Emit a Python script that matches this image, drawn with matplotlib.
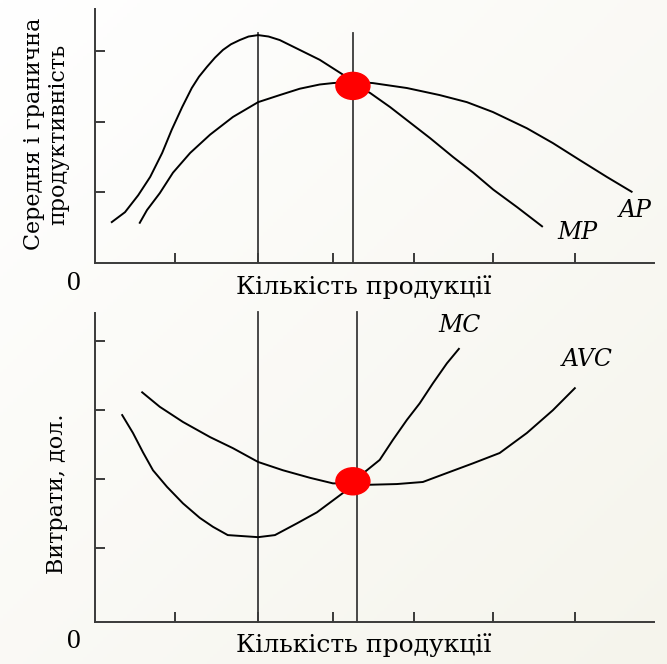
import matplotlib
matplotlib.use("Agg")
import matplotlib.pyplot as plt
from matplotlib.patches import Ellipse
import numpy as np

plt.rcParams['font.family'] = ['DejaVu Serif']

# top panel: marginal and average product
mp_x = [0.21, 0.375, 0.54, 0.69, 0.84, 0.96, 1.09, 1.21, 1.30, 1.40, 1.50, 1.60, 1.70, 1.81,
        1.92, 2.04, 2.17, 2.31, 2.56, 2.81, 3.10, 3.23, 3.44, 3.69, 3.94, 4.19, 4.48,
        4.73, 4.98, 5.28, 5.59]
mp_y = [0.58, 0.72, 0.96, 1.22, 1.56, 1.89, 2.21, 2.48, 2.64, 2.78, 2.91, 3.02, 3.10, 3.16,
        3.21, 3.23, 3.21, 3.16, 3.02, 2.88, 2.67, 2.54, 2.41, 2.21, 1.99, 1.77, 1.50,
        1.28, 1.04, 0.79, 0.52]
ap_x = [0.56, 0.65, 0.81, 0.975, 1.19, 1.44, 1.725, 2.04, 2.31, 2.56, 2.81, 2.975,
        3.225, 3.475, 3.90, 4.31, 4.65, 4.975, 5.40, 5.725, 6.06, 6.40, 6.71]
ap_y = [0.57, 0.75, 0.99, 1.28, 1.56, 1.82, 2.07, 2.28, 2.38, 2.47, 2.53, 2.55,
        2.57, 2.55, 2.48, 2.38, 2.28, 2.14, 1.91, 1.70, 1.46, 1.22, 1.01]

# bottom panel: marginal cost and average variable cost
mc_x = [0.34, 0.475, 0.60, 0.725, 0.90, 1.10, 1.31, 1.475, 1.66, 2.04, 2.25, 2.525,
        2.775, 3.10, 3.225, 3.40, 3.56, 3.725, 3.90, 4.06, 4.225, 4.40, 4.55]
mc_y = [2.93, 2.67, 2.39, 2.13, 1.89, 1.65, 1.44, 1.31, 1.19, 1.16, 1.19, 1.36,
        1.52, 1.80, 1.97, 2.13, 2.28, 2.57, 2.86, 3.10, 3.39, 3.68, 3.89]
avc_x = [0.59, 0.81, 1.10, 1.44, 1.725, 2.04, 2.35, 2.69, 2.975, 3.225, 3.44, 3.775,
         4.10, 4.40, 4.725, 5.06, 5.40, 5.725, 6.0]
avc_y = [3.26, 3.05, 2.83, 2.61, 2.45, 2.25, 2.13, 2.02, 1.94, 1.94, 1.92, 1.93,
         1.96, 2.09, 2.23, 2.38, 2.67, 3.00, 3.32]

x_ticks = [1.0, 2.04, 2.975, 3.99, 4.975, 6.0]
top_yticks = [1, 2, 3]
bot_yticks = [1, 2, 3, 4]
top_vlines = [2.04, 3.225]
bot_vlines = [2.04, 3.28]
top_point = (3.225, 2.51)
bot_point = (3.225, 1.97)

fig = plt.figure(figsize=(6.67, 6.64), dpi=100)

# soft background gradient
bg = fig.add_axes([0, 0, 1, 1], zorder=-10)
gx, gy = np.meshgrid(np.linspace(0, 1, 200), np.linspace(0, 1, 200))
g = np.clip((gx + gy) / 2, 0, 1)[..., None]
img = (1 - g) * np.array([1.0, 1.0, 1.0]) + g * np.array([0.962, 0.958, 0.925])
bg.imshow(img, aspect='auto', extent=[0, 1, 0, 1])
bg.axis('off')

line_kw = dict(color='black', lw=1.4)
axis_col = '#3a3a3a'
lab_kw = dict(style='italic', fontsize=17, ha='center', va='center')


def style(ax, ylim, yticks):
    ax.set_xlim(0, 6.99)
    ax.set_ylim(*ylim)
    ax.patch.set_alpha(0)
    for s in ['top', 'right']:
        ax.spines[s].set_visible(False)
    for s in ['left', 'bottom']:
        ax.spines[s].set_color(axis_col)
        ax.spines[s].set_linewidth(1.4)
    ax.set_xticks(x_ticks)
    ax.set_yticks(yticks)
    ax.tick_params(direction='in', length=7.5, width=1.4, color=axis_col,
                   labelbottom=False, labelleft=False)


ax1 = fig.add_axes([95 / 667, 1 - 263 / 664, 559 / 667, 254 / 664])
style(ax1, (0, 3.60), top_yticks)
for v in top_vlines:
    ax1.plot([v, v], [0, 3.26], color=axis_col, lw=1.3)
ax1.plot(mp_x, mp_y, **line_kw)
ax1.plot(ap_x, ap_y, **line_kw)
ax1.add_patch(Ellipse(top_point, 34 / 80, 27 / 70.5, color='#ff0000', zorder=5))
ax1.text(6.03, 0.43, 'MP', **lab_kw)
ax1.text(6.75, 0.75, 'AP', **lab_kw)

ax2 = fig.add_axes([95 / 667, 1 - 622 / 664, 559 / 667, 309 / 664])
style(ax2, (-0.07, 4.41), bot_yticks)
for v in bot_vlines:
    ax2.plot([v, v], [-0.07, 4.42], color=axis_col, lw=1.3, clip_on=False)
ax2.plot(mc_x, mc_y, **line_kw)
ax2.plot(avc_x, avc_y, **line_kw)
ax2.add_patch(Ellipse(bot_point, 34 / 80, 27 / 69, color='#ff0000', zorder=5))
ax2.text(4.56, 4.23, 'MC', **lab_kw)
ax2.text(6.16, 3.73, 'AVC', **lab_kw)

# axis texts
fig.text(46 / 667, 1 - 134 / 664, 'Середня і гранична\nпродуктивність', rotation=90,
         ha='center', va='center', multialignment='center', fontsize=16, linespacing=1.15)
fig.text(57 / 667, 1 - 494 / 664, 'Витрати, дол.', rotation=90,
         ha='center', va='center', fontsize=16)
for yy in (287, 645):
    fig.text(364 / 667, 1 - yy / 664, 'Кількість продукції', ha='center', va='center',
             fontsize=18)
for yy in (283, 642):
    fig.text(74 / 667, 1 - yy / 664, '0', ha='center', va='center', fontsize=20,
             family='Liberation Serif')

fig.savefig('out.png', dpi=100)
